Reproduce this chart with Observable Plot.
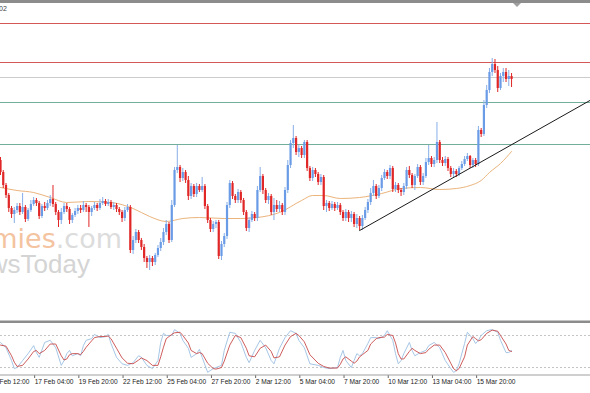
<!DOCTYPE html>
<html>
<head>
<meta charset="utf-8">
<script src="https://cdn.jsdelivr.net/npm/d3@7"></script>
<script src="https://cdn.jsdelivr.net/npm/@observablehq/plot@0.6"></script>
<style>
  html, body { margin: 0; padding: 0; background: #fff; }
  #wrap { position: relative; width: 590px; height: 393px; overflow: hidden; background: #fff; }
  #wrap > * { position: absolute; left: 0; }
</style>
</head>
<body>
<div id="wrap">
  <svg id="wm" width="590" height="393" style="top:0">
    <text x="122" y="248" text-anchor="end" font-family="DejaVu Sans" font-size="27"><tspan fill="#f4c3a0">economies</tspan><tspan fill="#dcdcdc">.com</tspan></text>
    <text x="90" y="273" text-anchor="end" font-family="Liberation Sans" font-size="26" fill="#d4d4d4">NewsToday</text>
  </svg>
  <div id="main" style="top:0"></div>
  <div id="sub" style="top:323px"></div>
  <svg id="chrome" width="590" height="393" style="top:0;pointer-events:none">
    <rect x="0" y="0" width="590" height="3" fill="#8c8c8c"></rect>
    <path d="M513,3 L521,3 L517,7 Z" fill="#a0a0a0"></path>
    <text x="-1" y="11" font-family="Liberation Sans" font-size="7" fill="#444">02</text>
    <rect x="0" y="320.5" width="590" height="2.5" fill="#8c8c8c"></rect>
    <rect x="0" y="374.5" width="590" height="1" fill="#a0a0a0"></rect>
  </svg>
</div>
<script>
// ---- data (H4 bars, index 0 = 15 Feb 04:00) ----
const firstOpen = 1.2170;
const closes = [
1.2158,1.2145,1.2135,1.2122,1.2116,1.2120,1.2124,1.2118,1.2123,1.2111,
1.2120,1.2126,1.2130,1.2127,1.2114,1.2124,1.2122,1.2127,1.2131,1.2126,
1.2118,1.2110,1.2118,1.2124,1.2121,1.2110,1.2115,1.2119,1.2122,1.2120,
1.2125,1.2123,1.2118,1.2122,1.2125,1.2122,1.2127,1.2129,1.2126,1.2128,
1.2123,1.2125,1.2121,1.2118,1.2112,1.2120,1.2123,1.2080,1.2090,1.2098,
1.2090,1.2083,1.2072,1.2068,1.2072,1.2068,1.2075,1.2082,1.2088,1.2098,
1.2106,1.2090,1.2125,1.2160,1.2163,1.2152,1.2158,1.2150,1.2134,1.2144,
1.2136,1.2144,1.2140,1.2144,1.2124,1.2110,1.2101,1.2106,1.2108,1.2074,
1.2086,1.2094,1.2125,1.2147,1.2134,1.2130,1.2138,1.2130,1.2118,1.2102,
1.2110,1.2116,1.2112,1.2140,1.2154,1.2140,1.2130,1.2134,1.2118,1.2125,
1.2121,1.2125,1.2118,1.2140,1.2165,1.2187,1.2192,1.2178,1.2182,1.2175,
1.2188,1.2162,1.2152,1.2160,1.2156,1.2148,1.2153,1.2124,1.2127,1.2122,
1.2126,1.2122,1.2125,1.2118,1.2112,1.2118,1.2112,1.2116,1.2106,1.2112,
1.2104,1.2112,1.2120,1.2128,1.2137,1.2144,1.2134,1.2142,1.2152,1.2158,
1.2154,1.2162,1.2141,1.2145,1.2140,1.2138,1.2144,1.2160,1.2155,1.2145,
1.2154,1.2163,1.2148,1.2154,1.2168,1.2172,1.2166,1.2170,1.2188,1.2170,
1.2167,1.2171,1.2162,1.2156,1.2159,1.2156,1.2162,1.2166,1.2171,1.2174,
1.2165,1.2170,1.2166,1.2200,1.2196,1.2225,1.2240,1.2258,1.2266,1.2260,
1.2242,1.2254,1.2258,1.2251,1.2254,1.2251];
const highs = [
1.2173,1.2160,1.2147,1.2137,1.2124,1.2123,1.2127,1.2127,1.2137,1.2125,
1.2122,1.2130,1.2133,1.2132,1.2129,1.2126,1.2128,1.2130,1.2135,1.2145,
1.2128,1.2120,1.2122,1.2127,1.2127,1.2123,1.2117,1.2122,1.2125,1.2125,
1.2129,1.2127,1.2125,1.2124,1.2128,1.2127,1.2131,1.2133,1.2131,1.2131,
1.2130,1.2128,1.2127,1.2123,1.2120,1.2123,1.2126,1.2125,1.2094,1.2101,
1.2100,1.2092,1.2086,1.2074,1.2075,1.2074,1.2077,1.2085,1.2092,1.2102,
1.2110,1.2108,1.2130,1.2163,1.2185,1.2165,1.2162,1.2160,1.2154,1.2147,
1.2146,1.2147,1.2146,1.2153,1.2146,1.2126,1.2112,1.2109,1.2110,1.2110,
1.2089,1.2097,1.2128,1.2150,1.2149,1.2136,1.2141,1.2140,1.2132,1.2120,
1.2113,1.2119,1.2118,1.2144,1.2163,1.2156,1.2142,1.2137,1.2136,1.2132,
1.2130,1.2129,1.2127,1.2143,1.2170,1.2190,1.2205,1.2194,1.2185,1.2184,
1.2190,1.2190,1.2164,1.2163,1.2162,1.2158,1.2156,1.2155,1.2130,1.2129,
1.2129,1.2128,1.2128,1.2127,1.2120,1.2121,1.2120,1.2119,1.2118,1.2116,
1.2114,1.2115,1.2123,1.2131,1.2142,1.2150,1.2146,1.2145,1.2155,1.2161,
1.2160,1.2165,1.2164,1.2148,1.2147,1.2142,1.2147,1.2163,1.2164,1.2157,
1.2156,1.2166,1.2165,1.2157,1.2172,1.2185,1.2174,1.2173,1.2208,1.2190,
1.2173,1.2174,1.2173,1.2164,1.2162,1.2161,1.2164,1.2169,1.2174,1.2177,
1.2175,1.2172,1.2172,1.2204,1.2202,1.2230,1.2245,1.2262,1.2272,1.2271,
1.2264,1.2257,1.2262,1.2262,1.2260,1.2257];
const lows = [
1.2155,1.2142,1.2132,1.2118,1.2112,1.2107,1.2117,1.2115,1.2116,1.2108,
1.2109,1.2118,1.2124,1.2124,1.2111,1.2112,1.2119,1.2120,1.2124,1.2123,
1.2115,1.2103,1.2106,1.2116,1.2118,1.2106,1.2107,1.2113,1.2116,1.2117,
1.2118,1.2118,1.2103,1.2114,1.2120,1.2119,1.2120,1.2125,1.2124,1.2124,
1.2121,1.2120,1.2118,1.2115,1.2108,1.2109,1.2118,1.2077,1.2076,1.2087,
1.2087,1.2080,1.2068,1.2062,1.2060,1.2064,1.2065,1.2073,1.2079,1.2085,
1.2095,1.2087,1.2088,1.2123,1.2157,1.2148,1.2149,1.2147,1.2130,1.2131,
1.2133,1.2133,1.2138,1.2138,1.2121,1.2107,1.2098,1.2098,1.2102,1.2071,
1.2070,1.2083,1.2091,1.2122,1.2131,1.2127,1.2127,1.2127,1.2115,1.2099,
1.2098,1.2108,1.2109,1.2109,1.2138,1.2136,1.2127,1.2126,1.2115,1.2110,
1.2118,1.2118,1.2115,1.2115,1.2137,1.2162,1.2182,1.2175,1.2173,1.2172,
1.2172,1.2159,1.2149,1.2149,1.2153,1.2145,1.2145,1.2120,1.2118,1.2119,
1.2120,1.2119,1.2120,1.2115,1.2109,1.2109,1.2108,1.2108,1.2103,1.2102,
1.2100,1.2100,1.2110,1.2117,1.2125,1.2134,1.2131,1.2132,1.2139,1.2150,
1.2151,1.2151,1.2138,1.2138,1.2137,1.2134,1.2135,1.2141,1.2152,1.2142,
1.2140,1.2152,1.2145,1.2145,1.2152,1.2165,1.2163,1.2163,1.2167,1.2167,
1.2164,1.2164,1.2159,1.2153,1.2153,1.2153,1.2154,1.2160,1.2164,1.2169,
1.2162,1.2162,1.2163,1.2164,1.2193,1.2194,1.2222,1.2237,1.2254,1.2257,
1.2238,1.2240,1.2248,1.2248,1.2244,1.2243];

// moving average, read at selected bars
const maIdx   = [0, 6, 12, 18, 24, 32, 40, 48, 54, 60, 66, 72, 81, 87, 93, 101, 109, 113, 117, 123, 130, 138, 145, 152, 159, 165, 170, 174, 177, 181, 185];
const maPrice = [1.2143,1.2140,1.2138,1.2133,1.2128,1.2129,1.2128,1.2122,1.2114,1.2109,1.2112,1.2113,1.2112,1.2112,1.2113,1.2118,1.2130,1.2135,1.2135,1.2132,1.2133,1.2137,1.2142,1.2143,1.2141,1.2142,1.2145,1.2150,1.2158,1.2167,1.2179];

// horizontal levels
const resistanceLevels = [1.2307, 1.2268];
const pivotLevels = [1.2253];
const supportLevels = [1.2228, 1.2186];

// ascending trend line
const trendIdx = [130, 214];
const trendPrice = [1.2100, 1.2231];

// Stochastic oscillator
const stochIdx = [0,2,4,5,6,8,10,12,13,14,16,18,20,22,23,24,25,26,28,29,30,31,33,34,36,38,39,40,42,44,46,48,50,51,53,55,57,58,59,60,62,63,65,66,68,69,71,72,73,75,77,78,80,81,83,85,87,89,90,92,94,96,98,99,101,103,105,107,108,110,112,115,117,119,122,123,124,125,127,128,129,130,131,133,134,136,137,139,140,142,143,144,145,146,148,149,150,152,154,155,157,159,161,163,164,165,166,168,169,171,172,173,174,176,178,180,181,183,184,185];
const stochMain = [67,57,33,18,20,33,46,61,48,39,67,71,57,24,33,46,52,42,46,42,61,71,74,82,76,78,82,65,39,27,24,29,42,39,24,18,33,67,84,80,80,91,84,71,56,39,46,54,39,11,18,20,24,52,86,84,67,39,29,52,71,57,33,27,56,76,89,84,71,57,27,24,20,18,20,39,52,33,20,33,46,42,46,65,76,76,74,80,89,71,46,27,33,46,67,52,42,48,52,61,67,57,33,18,11,14,27,65,86,74,65,71,80,89,91,86,71,48,48,52];
const stochSignal = [62,60,42,30,22,24,36,50,52,46,52,64,64,42,34,36,44,46,46,44,50,58,70,76,78,78,79,74,56,38,28,27,34,38,33,24,24,40,58,74,82,85,86,80,66,52,46,48,46,28,18,17,20,32,62,80,76,56,42,40,56,62,50,38,40,62,78,84,80,68,44,28,22,19,19,26,36,40,32,28,32,40,44,52,64,74,76,77,82,80,66,46,36,36,50,56,52,46,48,54,62,62,48,28,18,14,18,40,62,78,74,70,72,84,90,88,80,64,52,50];
const stochLevels = [20, 80];

// time axis
const tickIdx = [-4, 12, 28, 44, 60, 76, 92, 108, 124, 140, 156, 172];
const tickLabels = ["14 Feb 12:00","17 Feb 04:00","19 Feb 20:00","22 Feb 12:00","25 Feb 04:00","27 Feb 20:00","2 Mar 12:00","5 Mar 04:00","7 Mar 20:00","10 Mar 12:00","13 Mar 04:00","15 Mar 20:00"];

// ---- build ----
const candles = closes.map((c, i) => ({i, open: i ? closes[i - 1] : firstOpen, close: c, high: highs[i], low: lows[i]}));
const bulls = candles.filter(d => d.close >= d.open);
const bears = candles.filter(d => d.close < d.open);
const ma = maIdx.map((i, k) => ({i, p: maPrice[k]}));
const trend = trendIdx.map((i, k) => ({i, p: trendPrice[k]}));
const stoch = stochIdx.map((i, k) => ({i, main: stochMain[k], signal: stochSignal[k]}));
const labelOf = new Map(tickIdx.map((t, k) => [t, tickLabels[k]]));

const BULL = "#6a9be6", BEAR = "#e02626";
const xDomain = [0, 213.58];

const main = Plot.plot({
  width: 590, height: 320, margin: 0,
  style: {background: "transparent", overflow: "visible"},
  x: {domain: xDomain, axis: null},
  y: {domain: [1.2010, 1.2330], axis: null},
  marks: [
    Plot.ruleY(resistanceLevels, {stroke: "#d45858", strokeWidth: 1.1}),
    Plot.ruleY(pivotLevels, {stroke: "#cccccc", strokeWidth: 1.1}),
    Plot.ruleY(supportLevels, {stroke: "#72ae9a", strokeWidth: 1.1}),
    Plot.line(ma, {x: "i", y: "p", stroke: "#ebb47c", strokeWidth: 1, curve: "monotone-x"}),
    Plot.ruleX(bulls, {x: "i", y1: "low", y2: "high", stroke: "#86aee8", strokeWidth: 1}),
    Plot.ruleX(bears, {x: "i", y1: "low", y2: "high", stroke: BEAR, strokeWidth: 1}),
    Plot.ruleX(bulls, {x: "i", y1: "open", y2: "close", stroke: BULL, strokeWidth: 2.2}),
    Plot.ruleX(bears, {x: "i", y1: "open", y2: "close", stroke: BEAR, strokeWidth: 2.2}),
    Plot.line(trend, {x: "i", y: "p", stroke: "#1a1a1a", strokeWidth: 1})
  ]
});
document.getElementById("main").appendChild(main);

const sub = Plot.plot({
  width: 590, height: 70,
  marginTop: 0, marginLeft: 0, marginRight: 0, marginBottom: 18,
  style: {background: "transparent", overflow: "visible", fontFamily: "Liberation Sans", fontSize: "6.6px", color: "#222"},
  x: {domain: xDomain},
  y: {domain: [0, 100], range: [54.7, 1.3], axis: null},
  marks: [
    Plot.ruleY(stochLevels, {stroke: "#c4c4c4", strokeWidth: 1, strokeDasharray: "2,2"}),
    Plot.line(stoch, {x: "i", y: "main", stroke: "#9cc0e2", strokeWidth: 0.9}),
    Plot.line(stoch, {x: "i", y: "signal", stroke: "#c84a4a", strokeWidth: 0.9}),
    Plot.axisX(tickIdx, {anchor: "bottom", tickSize: 3, tickPadding: 1, stroke: "#666",
      tickFormat: d => labelOf.get(d), textAnchor: "start", dx: 1, fill: "#222", fontSize: 6.6, label: null})
  ]
});
document.getElementById("sub").appendChild(sub);
</script>
</body>
</html>
